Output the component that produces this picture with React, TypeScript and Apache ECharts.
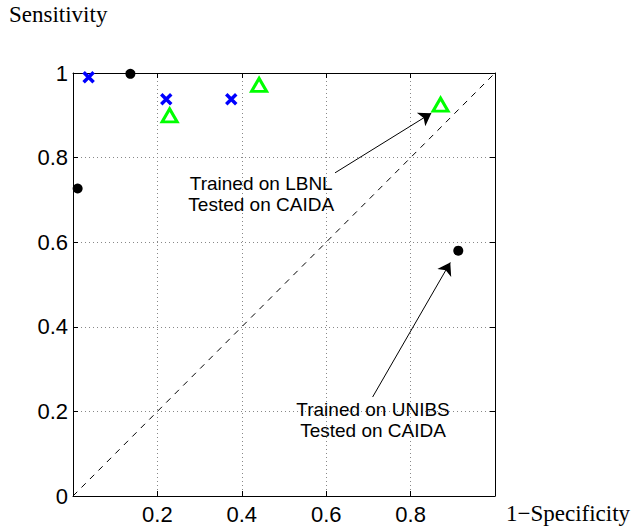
import React, { useEffect, useRef } from "react";
import * as echarts from "echarts";

const blackDots: [number, number][] = [
  [0.011, 0.727],
  [0.136, 0.998],
  [0.913, 0.58],
];
const blueCrosses: [number, number][] = [
  [0.037, 0.99],
  [0.221, 0.938],
  [0.375, 0.938],
];
const greenTriangles: [number, number][] = [
  [0.229, 0.9],
  [0.441, 0.972],
  [0.871, 0.925],
];
const diagonal: [number, number][] = [
  [0, 0],
  [1, 1],
];
const annotationTexts = [
  { pos: [0.446, 0.713], text: "Trained on LBNL\nTested on CAIDA" },
  { pos: [0.711, 0.18], text: "Trained on UNIBS\nTested on CAIDA" },
];
const arrows: [number, number][][] = [
  [
    [0.621, 0.764],
    [0.849, 0.905],
  ],
  [
    [0.71, 0.234],
    [0.894, 0.552],
  ],
];

const fmt = (v: number) => {
  const r = Math.round(v * 10) / 10;
  return String(r);
};

export default function App() {
  const ref = useRef<HTMLDivElement>(null);
  useEffect(() => {
    if (!ref.current) return;
    const chart = echarts.init(ref.current, null, { renderer: "svg" });
    const axisCommon = {
      type: "value" as const,
      min: 0,
      max: 1,
      interval: 0.2,
      axisLine: { show: true, onZero: false, lineStyle: { color: "#000", width: 1 } },
      axisTick: { show: true, inside: true, length: 5, lineStyle: { color: "#000" } },
    };
    const labelFont = {
      fontFamily: "Liberation Sans, Arial",
      fontSize: 22,
      color: "#000",
    };
    chart.setOption({
      animation: false,
      backgroundColor: "#fff",
      grid: { left: 73, top: 73, width: 422, height: 423 },
      xAxis: [
        {
          ...axisCommon,
          position: "bottom",
          axisLabel: {
            ...labelFont,
            margin: 7,
            formatter: (v: number) => (v <= 0 || v >= 1 ? "" : fmt(v)),
          },
          splitLine: { show: true, lineStyle: { color: "#888", type: [1, 3], width: 1 } },
        },
        {
          ...axisCommon,
          position: "top",
          axisLabel: { show: false },
          splitLine: { show: false },
        },
      ],
      yAxis: [
        {
          ...axisCommon,
          position: "left",
          axisLabel: {
            ...labelFont,
            margin: 5,
            formatter: (v: number) => fmt(v),
          },
          splitLine: { show: true, lineStyle: { color: "#888", type: [1, 3], width: 1 } },
        },
        {
          ...axisCommon,
          position: "right",
          axisLabel: { show: false },
          splitLine: { show: false },
        },
      ],
      graphic: [
        {
          type: "text",
          left: 9,
          top: 3,
          style: {
            text: "Sensitivity",
            font: "23px 'Liberation Serif', 'Times New Roman', serif",
            fill: "#000",
          },
        },
        {
          type: "text",
          left: 506,
          top: 502,
          style: {
            text: "1\u2212Specificity",
            font: "23px 'Liberation Serif', 'Times New Roman', serif",
            fill: "#000",
          },
        },
      ],
      series: [
        {
          type: "line",
          data: diagonal,
          symbol: "none",
          lineStyle: { color: "#000", width: 1, type: [6, 6] },
          silent: true,
        },
        {
          type: "lines",
          coordinateSystem: "cartesian2d",
          symbol: ["none", "arrow"],
          symbolSize: [8, 12],
          lineStyle: { color: "#000", width: 1, opacity: 1 },
          itemStyle: { color: "#000" },
          data: arrows.map((a) => ({ coords: a })),
          silent: true,
        },
        {
          type: "scatter",
          data: blackDots,
          symbol: "circle",
          symbolSize: 10,
          itemStyle: { color: "#000", opacity: 1 },
        },
        {
          type: "scatter",
          data: blueCrosses,
          symbol: "path://M0,0L10,10M10,0L0,10",
          symbolSize: 10,
          itemStyle: { color: "none", borderColor: "#0000ff", borderWidth: 3.5, opacity: 1 },
        },
        {
          type: "scatter",
          data: greenTriangles,
          symbol: "triangle",
          symbolSize: [15, 13],
          itemStyle: { color: "#fff", borderColor: "#00ff00", borderWidth: 3, opacity: 1 },
        },
        {
          type: "scatter",
          data: annotationTexts.map((a) => ({ value: a.pos, name: a.text })),
          symbolSize: 0,
          silent: true,
          itemStyle: { opacity: 1 },
          label: {
            show: true,
            position: "inside",
            formatter: (p: any) => p.name,
            fontFamily: "Liberation Sans, Arial",
            fontSize: 19,
            lineHeight: 21,
            color: "#000",
            opacity: 1,
            align: "center",
            verticalAlign: "middle",
          },
        },
      ],
    });
    return () => chart.dispose();
  }, []);
  return (
    <div
      ref={ref}
      style={{ position: "fixed", left: 0, top: 0, width: 638, height: 532, background: "#fff" }}
    />
  );
}
